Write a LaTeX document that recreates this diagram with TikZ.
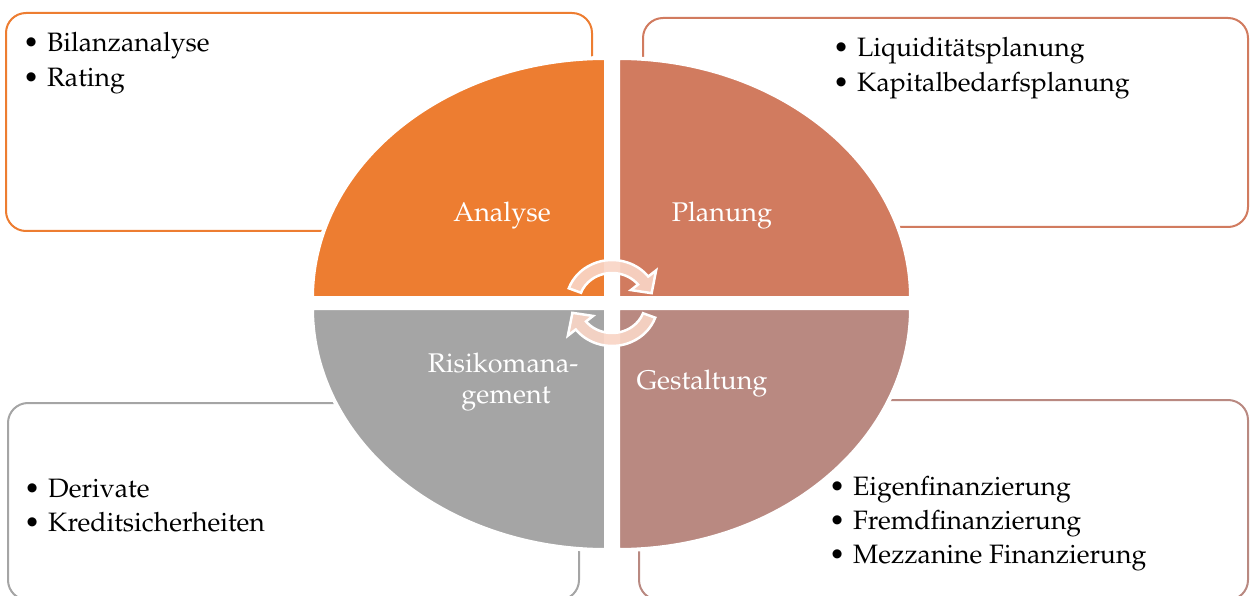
\documentclass[tikz,border=0pt]{standalone}
\usepackage[T1]{fontenc}
\usepackage{mathpazo}
\usetikzlibrary{calc}
\definecolor{cA}{HTML}{ED7D31}
\definecolor{cP}{HTML}{D17B5F}
\definecolor{cG}{HTML}{B98981}
\definecolor{cR}{HTML}{A5A5A5}
\definecolor{cArr}{HTML}{F9D5C6}
\newcommand\bulbox{\makebox[24pt][l]{\textbullet}}
\begin{document}
\begin{tikzpicture}[x=1pt,y=-1pt,
  framebox/.style={line width=2pt, rounded corners=20pt},
  quad/.style={draw=white, line width=4pt},
  item/.style={anchor=base west, inner sep=0pt, font=\fontsize{26.6}{35}\selectfont, text=black},
  qlabel/.style={anchor=base, inner sep=0pt, font=\fontsize{27}{31}\selectfont, text=white},
  cyc/.style={fill=cArr, fill opacity=0.92, draw=white, line width=2.5pt, line join=miter}]
\useasboundingbox (0,0) rectangle (1250,596);
\clip (0,0) rectangle (1250,596);
% frames
\draw[framebox, cA] (6,13) rectangle (592,231);
\draw[framebox, cP] (643,18) rectangle (1248,227);
\draw[framebox, cR] (8,403) rectangle (579,600);
\draw[framebox, cG] (639,400) rectangle (1248,600);
% quadrants
\path[quad, fill=cA] (606,298) -- (312,298) arc[start angle=180, end angle=270, x radius=294, y radius=240] -- cycle;
\path[quad, fill=cP] (618,298) -- (618,58) arc[start angle=270, end angle=360, x radius=293, y radius=240] -- cycle;
\path[quad, fill=cR] (606,308) -- (606,550) arc[start angle=90, end angle=180, x radius=294, y radius=242] -- cycle;
\path[quad, fill=cG] (618,308) -- (911,308) arc[start angle=0, end angle=90, x radius=293, y radius=242] -- cycle;
% cycle arrows
\coordinate (C) at (612,303);
\path[cyc] ($(C)+(200:46 and 43)$) arc[start angle=200, end angle=322, x radius=46, y radius=43]
  -- ($(C)+(322:56 and 53)$) -- ($(C)+(345:41 and 38)$) -- ($(C)+(322:24 and 21)$)
  -- ($(C)+(322:33 and 30)$) arc[start angle=322, end angle=200, x radius=33, y radius=30] -- cycle;
\path[cyc] ($(C)+(20:46 and 43)$) arc[start angle=20, end angle=142, x radius=46, y radius=43]
  -- ($(C)+(142:56 and 53)$) -- ($(C)+(165:41 and 38)$) -- ($(C)+(142:24 and 21)$)
  -- ($(C)+(142:33 and 30)$) arc[start angle=142, end angle=20, x radius=33, y radius=30] -- cycle;
% quadrant labels
\node[qlabel] (lA) at (502,222) {Analyse};
\node[qlabel] (lP) at (722,222) {Planung};
\node[qlabel] (lR1) at (503,372) {Risikomana-};
\node[qlabel] (lR2) at (506,403) {gement};
\node[qlabel] (lG) at (702,389) {Gestaltung};
% items
\node[item] (a1) at (23,52) {\bulbox Bilanzanalyse};
\node[item] (a2) at (23,87) {\bulbox Rating};
\node[item] (p1) at (833,57) {\bulbox Liquidit\"atsplanung};
\node[item] (p2) at (833,92) {\bulbox Kapitalbedarfsplanung};
\node[item] (r1) at (24,497) {\bulbox Derivate};
\node[item] (r2) at (24,531) {\bulbox Kreditsicherheiten};
\node[item] (g1) at (829,495) {\bulbox Eigenfinanzierung};
\node[item] (g2) at (829,529) {\bulbox Fremdfinanzierung};
\node[item] (g3) at (829,563) {\bulbox Mezzanine Finanzierung};
\end{tikzpicture}
\end{document}
